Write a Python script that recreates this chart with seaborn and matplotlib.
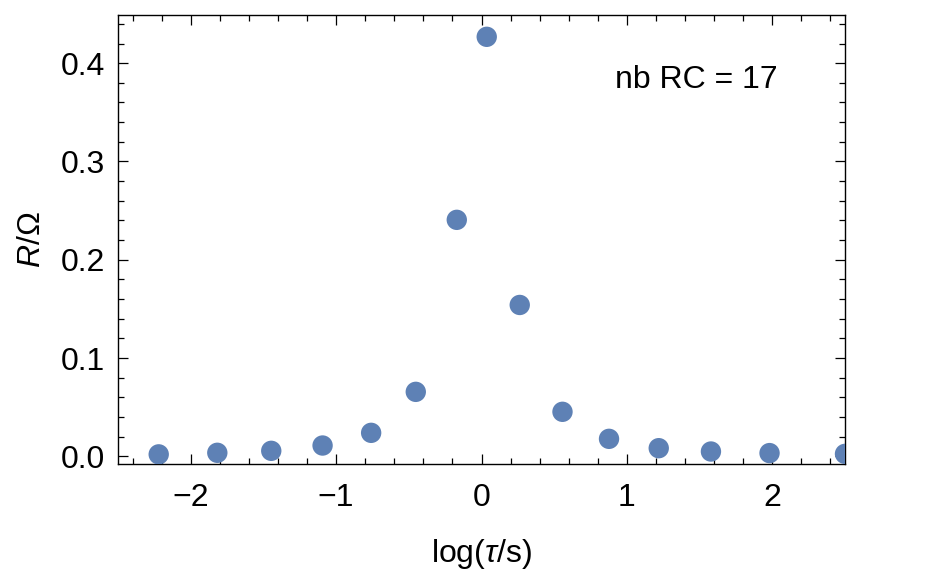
import matplotlib
matplotlib.use("Agg")
import matplotlib.pyplot as plt
import seaborn as sns
import pandas as pd
from matplotlib.ticker import MultipleLocator

# data
log_tau = [-2.22, -1.817, -1.446, -1.093, -0.759, -0.452, -0.170, 0.036, 0.263,
           0.557, 0.877, 1.219, 1.578, 1.981, 2.50]
resistance = [0.0020, 0.0036, 0.0056, 0.0110, 0.0239, 0.0656, 0.2406, 0.4268, 0.1540,
              0.0453, 0.0178, 0.0083, 0.0049, 0.0033, 0.0025]
x_ticks = [-2, -1, 0, 1, 2]
y_ticks = [0.0, 0.1, 0.2, 0.3, 0.4]
y_tick_labels = ["0.0", "0.1", "0.2", "0.3", "0.4"]
x_tick_labels = ["\u22122", "\u22121", "0", "1", "2"]
annotation = "nb RC = 17"

sns.set_style("white")
plt.rcParams["font.family"] = ["Liberation Sans", "DejaVu Sans"]
plt.rcParams["mathtext.fontset"] = "custom"
plt.rcParams["mathtext.it"] = "Liberation Sans:italic"
plt.rcParams["mathtext.rm"] = "Liberation Sans"
plt.rcParams["text.color"] = "black"
plt.rcParams["axes.labelcolor"] = "black"
plt.rcParams["xtick.color"] = "black"
plt.rcParams["ytick.color"] = "black"

df = pd.DataFrame({"log_tau": log_tau, "R": resistance})

fig = plt.figure(figsize=(9.28, 5.78), dpi=100)
ax = fig.add_axes([118 / 928, 1 - 464 / 578, (845 - 118) / 928, (464 - 15) / 578])

sns.scatterplot(data=df, x="log_tau", y="R", ax=ax, color="#5E81B5",
                s=215, edgecolor="none", linewidth=0, legend=False, zorder=3)

ax.set_xlim(-2.5, 2.5)
ax.set_ylim(-0.0078, 0.449)

ax.set_xticks(x_ticks)
ax.set_xticklabels(x_tick_labels)
ax.set_yticks(y_ticks)
ax.set_yticklabels(y_tick_labels)
ax.xaxis.set_minor_locator(MultipleLocator(0.2))
ax.yaxis.set_minor_locator(MultipleLocator(0.02))

for sp in ax.spines.values():
    sp.set_visible(True)
    sp.set_color("black")
    sp.set_linewidth(1.0)

ax.tick_params(which="both", direction="in", top=True, right=True,
               bottom=True, left=True, color="black", width=0.9,
               labelcolor="black")
ax.tick_params(which="major", length=7, labelsize=23, pad=9)
ax.tick_params(which="minor", length=4.5)
ax.tick_params(axis="x", which="major", pad=14)

ax.set_xlabel(r"log($\tau$/s)", fontsize=23, labelpad=17, color="black")
ax.set_ylabel("$R$/\u03a9", fontsize=23, labelpad=10, color="black")

ax.text(0.795, 0.855, annotation, transform=ax.transAxes, fontsize=23,
        ha="center", va="center", color="black")

fig.savefig("out.png", dpi=100)
